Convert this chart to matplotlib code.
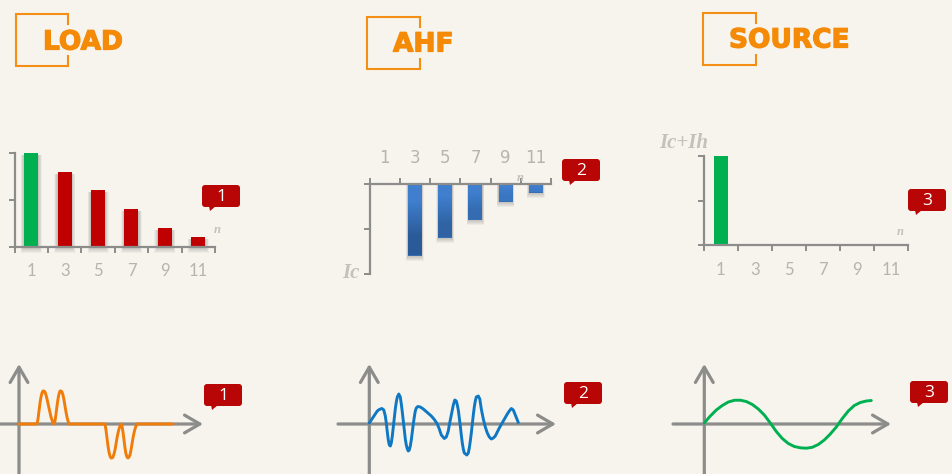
import matplotlib
matplotlib.use("Agg")
import matplotlib.pyplot as plt
import matplotlib.patheffects as pe
from matplotlib.colors import LinearSegmentedColormap
from matplotlib.patches import FancyBboxPatch, Polygon

W, H = 952, 474
BG = "#F7F4EE"
GREY = "#8C8C8A"
ORANGE = "#F58A07"
LABEL = "#B7B3AE"

harmonics = ["1", "3", "5", "7", "9", "11"]
load_values = [100, 80, 60, 40, 20, 10]
load_colors = ["#00B050", "#C00000", "#C00000", "#C00000", "#C00000", "#C00000"]
ahf_values = [0, -80, -60, -40, -20, -10]
source_values = [100, 0, 0, 0, 0, 0]

load_wave_x = [0, 18, 19, 20, 21, 22, 23, 24, 25, 26, 27, 28, 30, 32, 34, 35, 36, 37, 38, 39, 40, 41, 42, 43,
               44, 45, 46, 47, 48, 49, 50, 86, 87, 88, 89, 90, 91, 92, 93, 94, 95, 96, 97, 98, 99, 100, 101,
               102, 103, 104, 105, 106, 107, 108, 109, 110, 111, 112, 113, 114, 115, 116, 117, 118, 154]
load_wave_y = [0, 0, 5, 13, 21, 27, 31, 33, 33, 32, 29, 25, 16, 7, 1, 0, 3, 10, 18, 25, 30, 33, 33, 32,
               29, 24, 18, 12, 7, 3, 0, 0, -6, -14, -22, -28, -32, -34, -34, -33, -30, -26, -20, -14, -9, -5, -2,
               0, -2, -8, -16, -24, -30, -33, -34, -33, -31, -26, -20, -14, -9, -5, -2, 0, 0]

ahf_wave_x = [0, 2, 4, 6, 8, 10, 12.5, 14.5, 16, 17, 18, 19, 20, 21, 22, 23, 24, 25, 26, 27, 28, 29.5, 31, 32,
              33, 34, 35, 36, 37, 38, 39, 40, 41, 42, 43, 44, 45, 46, 47, 48.5, 51, 54, 58, 62, 65, 68, 70, 72,
              75, 77, 79, 80, 81, 82, 83, 84, 85.5, 87, 88, 89, 90, 91, 92, 93, 94, 95, 97.5, 99, 100, 101,
              102, 103, 104, 105, 106, 107, 109, 110.5, 112, 114, 116, 118, 120, 122, 124, 126, 128, 130,
              134, 138, 140, 142, 144, 146, 148, 149]
ahf_wave_y = [1, 4, 7, 10, 13, 14.5, 15.5, 14, 8, 1, -8, -16, -21, -22, -19, -12, -3, 6, 15, 22, 27, 30, 27, 20,
              12, 3, -6, -15, -21, -25, -27, -26, -22, -16, -8, 0, 7, 13, 16, 17.5, 17, 15, 11.5, 8, 4.5, 0, -5, -11,
              -14.5, -13, -7, -1, 4, 9, 14, 19, 24, 23, 19, 14, 6, -2, -11, -19, -25, -29, -31, -29, -24, -17,
              -9, 0, 9, 17, 23, 27, 28, 25, 15, 5, -3, -9, -13, -15, -14, -12, -8, -4,
              3, 10, 13, 15.5, 14, 9, 4, 1.5]

source_wave_x = [0, 6, 12, 18, 24, 30, 36, 42, 48, 54, 60, 66, 72, 78, 84, 90, 96, 102, 108, 114, 120, 126, 132,
                 138, 144, 150, 156, 162, 167]
source_wave_y = [1, 8, 14, 18.5, 22, 23.7, 23.8, 22.5, 19.5, 15, 9, 1, -7.5, -14.5, -19.5, -22.5, -23.8, -24.2,
                 -23.3, -20.5, -16, -10, -3, 5.5, 13, 18.5, 21.5, 23, 23.5]


def px_axes(left, top, right, bottom):
    return fig.add_axes([left / W, 1 - bottom / H, (right - left) / W, (bottom - top) / H])


def style_bar_axes(ax, ymin, ymax, yticks):
    ax.patch.set_alpha(0)
    ax.set_xlim(-0.5, 5.5)
    ax.set_ylim(ymin, ymax)
    for s in ax.spines.values():
        s.set_visible(False)
    ax.spines["left"].set_visible(True)
    ax.spines["left"].set_linewidth(1.6)
    ax.spines["left"].set_color(GREY)
    ax.set_yticks(yticks)
    ax.set_yticklabels([])
    ax.set_xticks([i - 0.5 for i in range(7)])
    ax.set_xticklabels([])
    ax.set_xticks(range(6), harmonics, minor=True)
    ax.tick_params(axis="both", which="major", length=4, width=1.4, color=GREY)
    ax.tick_params(axis="x", which="minor", length=0, pad=12, labelsize=12, labelcolor=LABEL)
    for lab in ax.get_xticklabels(minor=True):
        lab.set_family("Lato")


def base_spine(ax, side):
    ax.spines[side].set_visible(True)
    ax.spines[side].set_linewidth(1.6)
    ax.spines[side].set_color(GREY)
    ax.spines[side].set_zorder(5)


def wave_axes(left, origin_x, right, color, xs, ys):
    top = 365
    ax = px_axes(left, top, right, H)
    ax.set_xlim(left - origin_x, right - origin_x)
    ax.set_ylim(-(H - 424), 424 - top)
    ax.axis("off")
    arrow = dict(arrowstyle="->,head_length=0.55,head_width=0.32", color=GREY, lw=2.3,
                 shrinkA=0, shrinkB=0, mutation_scale=20)
    ax.annotate("", xy=(right + 2 - origin_x, 0), xytext=(left - origin_x, 0), arrowprops=arrow,
                annotation_clip=False)
    ax.annotate("", xy=(0, 425 - top), xytext=(0, -(H - 424)), arrowprops=arrow, annotation_clip=False)
    ax.plot(xs, ys, color=color, lw=2.1, solid_capstyle="round", zorder=3)


fig = plt.figure(figsize=(W / 100, H / 100), dpi=100, facecolor=BG)

# load spectrum, soft shadow built from stacked faint bars
ax1 = px_axes(14.5, 153, 215, 246.5)
for k in range(1, 7):
    ax1.bar(range(6), [v - 2 + k * 1.2 for v in load_values], bottom=-k * 1.2, width=0.42 + 0.035 * k,
            color="#000000", alpha=0.035, clip_on=False, lw=0, zorder=1)
ax1.bar(range(6), load_values, width=0.42, color=load_colors, zorder=2)
style_bar_axes(ax1, 0, 100, [0, 50, 100])
base_spine(ax1, "bottom")

# ahf spectrum, bars hang from the top axis
ax2 = px_axes(369.5, 183.5, 551, 273.5)
for k in range(1, 7):
    ax2.bar(range(1, 6), [v - k * 1.1 for v in ahf_values[1:]], width=0.46 + 0.02 * k, color="#000000",
            alpha=0.04, lw=0, zorder=1)
blue = LinearSegmentedColormap.from_list("blue", ["#3F7FCE", "#2A5A97"])
bars2 = ax2.bar(range(1, 6), ahf_values[1:], width=0.46, color="#3570B5", zorder=2)
for b, v in zip(bars2, ahf_values[1:]):
    ax2.imshow([[0], [(-v) / 80]], extent=[b.get_x(), b.get_x() + b.get_width(), v, 0], vmin=0, vmax=1,
               aspect="auto", cmap=blue, interpolation="bilinear", zorder=3)
style_bar_axes(ax2, -100, 0, [-100, -50, 0])
ax2.xaxis.tick_top()
base_spine(ax2, "top")
ax2.tick_params(axis="x", which="minor", top=True, labeltop=True, bottom=False, labelbottom=False)

# source spectrum
ax3 = px_axes(703.5, 156.5, 908, 245.5)
ax3.bar(range(6), source_values, width=0.41, color="#00B050", zorder=2)
style_bar_axes(ax3, 0, 100, [0, 50, 100])
base_spine(ax3, "bottom")

wave_axes(0, 19, 201, "#F07D0A", load_wave_x, load_wave_y)
wave_axes(338, 369.3, 554, "#0E78C4", ahf_wave_x, ahf_wave_y)
wave_axes(673, 704.3, 889, "#00B050", source_wave_x, source_wave_y)

# overlay in pixel coordinates for titles, frames and callouts
ov = fig.add_axes([0, 0, 1, 1], zorder=10)
ov.set_xlim(0, W)
ov.set_ylim(H, 0)
ov.axis("off")
ov.patch.set_alpha(0)


def title(x0, y0, tx, ty, label):
    x1, y1 = x0 + 52.5, y0 + 52
    ov.plot([x1, x1, x0, x0, x1, x1], [y0 + 10, y0, y0, y1, y1, y1 - 10], color=ORANGE, lw=1.5,
            solid_joinstyle="miter", alpha=0.95)
    ov.text(tx, ty, label, color=ORANGE, fontsize=19, family="DejaVu Sans", weight="bold", ha="left", va="center",
            path_effects=[pe.withStroke(linewidth=0.9, foreground=ORANGE)])


def callout(x0, y0, label):
    box = FancyBboxPatch((x0 + 2, y0 + 2), 34, 18, boxstyle="round,pad=2,rounding_size=3", fc="#B80505", ec="none")
    ov.add_patch(box)
    ov.add_patch(Polygon([(x0 + 7, y0 + 21), (x0 + 8, y0 + 26), (x0 + 14, y0 + 21)], fc="#B80505", ec="none"))
    ov.text(x0 + 19, y0 + 12, label, color="white", fontsize=12.5, family="Open Sans", ha="center", va="center")


title(15.5, 14, 43, 42.5, "LOAD")
title(367, 17, 393, 44.5, "AHF")
title(703, 12.5, 729, 40.5, "SOURCE")

for cx, cy, lab in [(202, 185, "1"), (562, 159, "2"), (908, 189, "3"), (204, 384, "1"), (564, 382, "2"), (910, 381, "3")]:
    callout(cx, cy, lab)

serif = dict(family="Liberation Serif", style="italic", weight="bold", color="#C4C0BB", ha="center", va="center")
ov.text(217, 229.5, "n", fontsize=9, **serif)
ov.text(520, 178, "n", fontsize=9, **serif)
ov.text(900, 232, "n", fontsize=9, **serif)
ov.text(351, 273.5, "Ic", fontsize=15, **serif)
ov.text(684, 142.5, "Ic+Ih", fontsize=15, **serif)

fig.savefig("out.png", dpi=100, facecolor=BG)
